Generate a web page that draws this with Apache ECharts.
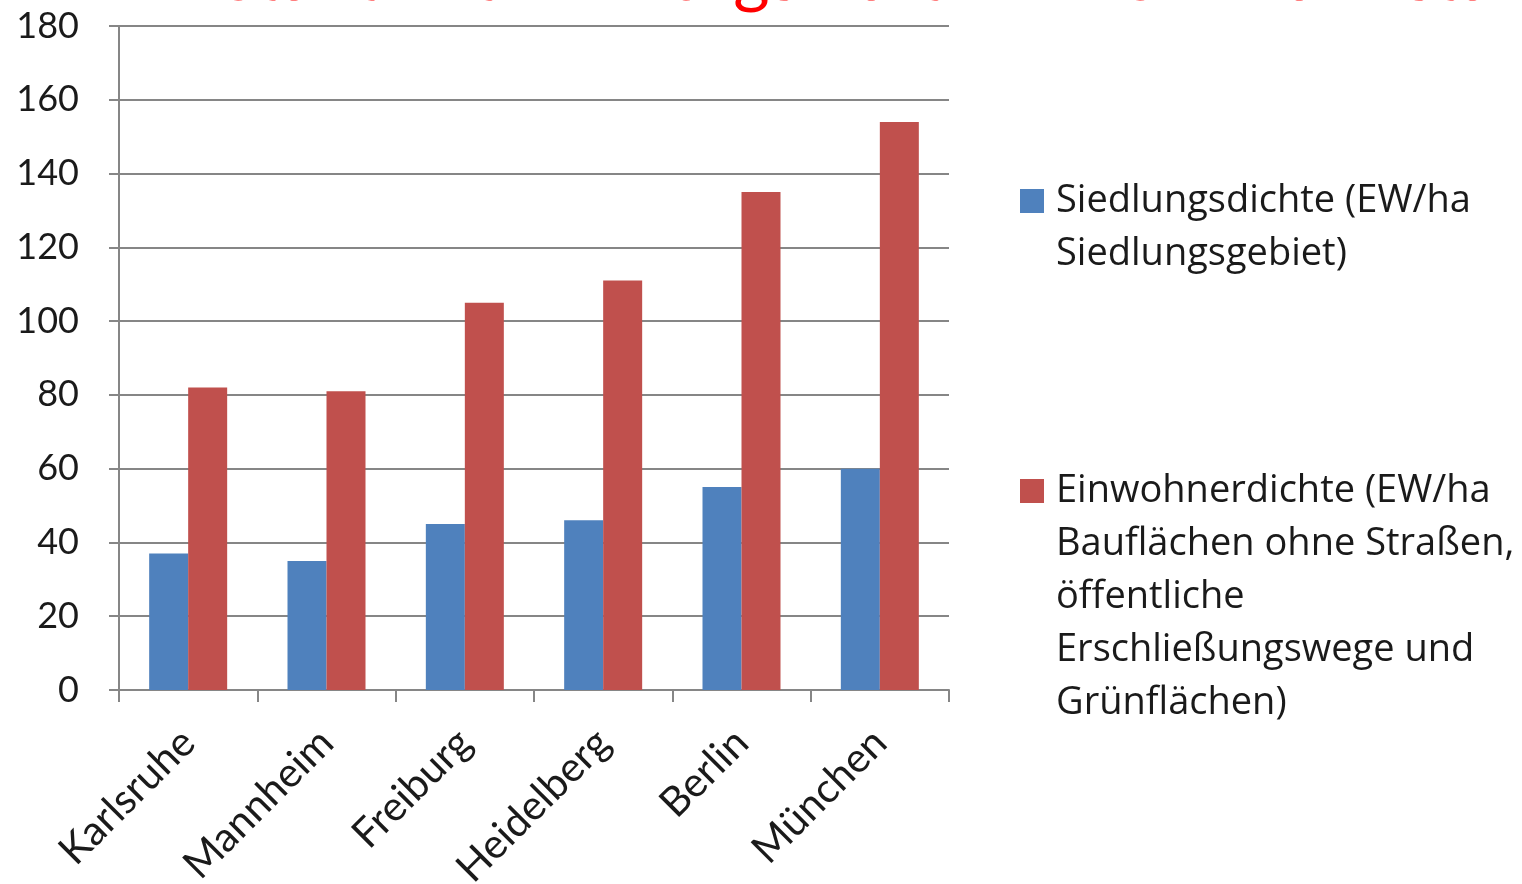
<!DOCTYPE html>
<html>
<head>
<meta charset="utf-8">
<script src="https://cdn.jsdelivr.net/npm/echarts@6/dist/echarts.min.js"></script>
<style>
  html, body { margin: 0; padding: 0; background: #fff; }
  #chart { width: 1522px; height: 884px; }
</style>
</head>
<body>
<div id="chart"></div>
<script>
// Daten
const cities = ['Karlsruhe', 'Mannheim', 'Freiburg', 'Heidelberg', 'Berlin', 'München'];
const siedlungsdichte = [37, 35, 45, 46, 55, 60];
const einwohnerdichte = [82, 81, 105, 111, 135, 154];
const yTicks = [0, 20, 40, 60, 80, 100, 120, 140, 160, 180];

const nameSiedlung = 'Siedlungsdichte (EW/ha Siedlungsgebiet)';
const nameEinwohner = 'Einwohnerdichte (EW/ha Bauflächen ohne Straßen, öffentliche Erschließungswege und Grünflächen)';

const legendText = {
  [nameSiedlung]: 'Siedlungsdichte (EW/ha\nSiedlungsgebiet)',
  [nameEinwohner]: 'Einwohnerdichte (EW/ha\nBauflächen ohne Straßen,\nöffentliche\nErschließungswege und\nGrünflächen)'
};

const chart = echarts.init(document.getElementById('chart'));
const font = 'Lato, "Open Sans", sans-serif';
const legendFont = '"Open Sans", Lato, sans-serif';
const lineH = 53;

// Quadrat oben in einem hohen Rahmen, damit es auf Höhe der ersten Zeile sitzt
function legendBox(top, lines) {
  const h = lines * lineH;
  return {
    orient: 'vertical',
    left: 1020,
    top: top,
    padding: 0,
    itemWidth: 31,
    itemHeight: h,
    icon: 'path://M0,14H24V38H0Z M0,0 M31,' + h,
    formatter: (name) => legendText[name],
    textStyle: { fontSize: 38, lineHeight: lineH, color: '#1a1a1a', fontFamily: legendFont }
  };
}

const option = {
  animation: false,
  textStyle: { fontFamily: font },
  title: {
    text: 'Stadt mit Freiburgs Partner – Schwarmstadt',
    left: 215,
    top: -63,
    textStyle: { color: '#ff0000', fontSize: 70, fontWeight: 'normal', fontFamily: font }
  },
  legend: [
    Object.assign(legendBox(175, 2), { data: [nameSiedlung] }),
    Object.assign(legendBox(465, 5), { data: [nameEinwohner] })
  ],
  grid: { left: 119, right: 573, top: 26, bottom: 194, containLabel: false, outerBoundsMode: 'none' },
  xAxis: {
    type: 'category',
    data: cities,
    axisLine: { lineStyle: { color: '#868686', width: 2 } },
    axisTick: { show: true, length: 12, alignWithLabel: false, lineStyle: { color: '#868686', width: 2 } },
    axisLabel: { rotate: 45, fontSize: 41, color: '#1a1a1a', margin: 46, interval: 0 }
  },
  yAxis: {
    type: 'value',
    min: yTicks[0],
    max: yTicks[yTicks.length - 1],
    interval: 20,
    axisLine: { show: true, lineStyle: { color: '#868686', width: 2 } },
    axisTick: { show: true, inside: false, length: 10, lineStyle: { color: '#868686', width: 2 } },
    axisLabel: { fontSize: 36, color: '#1a1a1a', margin: 40 },
    splitLine: { lineStyle: { color: '#868686', width: 2 } }
  },
  series: [
    {
      name: nameSiedlung,
      type: 'bar',
      data: siedlungsdichte,
      barWidth: 39,
      barGap: '0%',
      itemStyle: { color: '#4f81bd' }
    },
    {
      name: nameEinwohner,
      type: 'bar',
      data: einwohnerdichte,
      barWidth: 39,
      barGap: '0%',
      itemStyle: { color: '#c0504d' }
    }
  ]
};

chart.setOption(option);
window.addEventListener('resize', () => chart.resize());
</script>
</body>
</html>
